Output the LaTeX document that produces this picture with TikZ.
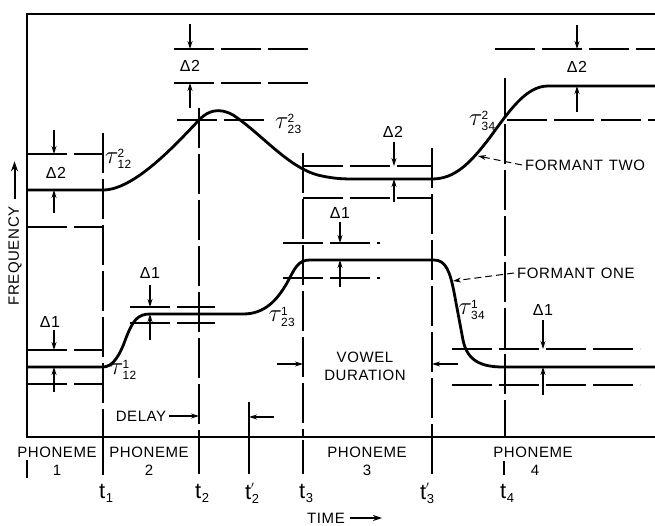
\documentclass[tikz,border=0pt]{standalone}
\usepackage{fontspec}
\usepackage{amsmath}
\setmainfont{Liberation Sans}[LetterSpace=4]
\usetikzlibrary{arrows.meta}
\newcommand{\tauf}[2]{\fontsize{23}{23}\selectfont$\tau$\kern-1pt\fontsize{17}{17}\selectfont$^{\text{#1}}_{\text{#2}}$}
\newcommand{\tsub}[2]{\fontsize{22}{22}\selectfont t\kern0.5pt\fontsize{13}{13}\selectfont\raisebox{-4pt}{#2}\ifx#1p\kern-8pt\raisebox{6pt}{\fontsize{14}{14}\selectfont$'$}\kern3pt\fi}
\begin{document}
\begin{tikzpicture}[x=1pt,y=-1pt,
  lab/.style={font=\fontsize{15}{18}\selectfont, inner sep=0pt, align=center},
  dlab/.style={font=\fontsize{16}{18}\selectfont, inner sep=0pt},
  tlab/.style={inner sep=0pt, anchor=west},
  taulab/.style={inner sep=0pt},
  curve/.style={line width=2.8pt, line join=round},
  frame/.style={line width=1.8pt},
  guide/.style={line width=1.1pt, dash pattern=on 40pt off 7pt},
  vguide/.style={line width=1.1pt, dash pattern=on 40pt off 6pt},
  tick/.style={line width=1.1pt},
  marr/.style={line width=1.1pt, -{Stealth[length=8pt,width=5pt]}},
  lead/.style={line width=1pt, dash pattern=on 7pt off 4pt, -{Stealth[length=8pt,width=5pt]}},
]
\useasboundingbox (0,0) rectangle (655,526);
\fill[white] (0,0) rectangle (655,526);

% frame
\draw[frame] (655,14) -- (27,14) -- (27,437) -- (655,437);

% vertical guides
\draw[vguide] (103,133) -- (103,437);
\draw[vguide] (199,108) -- (199,437);
\draw[tick] (249,402) -- (249,437);
\draw[vguide] (303,153) -- (303,437);
\draw[vguide] (432,148) -- (432,437);
\draw[vguide] (505,78) -- (505,437);

% horizontal guides, formant two
\draw[guide] (27,154) -- (103,154);
\draw[guide] (27,227) -- (103,227);
\draw[guide] (174,49) -- (308,49);
\draw[guide] (174,83) -- (308,83);
\draw[guide] (177,120) -- (270,120);
\draw[guide] (303,166) -- (432,166);
\draw[guide] (303,198) -- (432,198);
\draw[guide] (495,49) -- (655,49);
\draw[guide] (507,120) -- (655,120);
% horizontal guides, formant one
\draw[guide] (27,350) -- (103,350);
\draw[guide] (27,384) -- (103,384);
\draw[guide] (130,307) -- (215,307);
\draw[guide] (130,323) -- (215,323);
\draw[guide] (283,243) -- (380,243);
\draw[guide] (283,278) -- (380,278);
\draw[guide] (452,349) -- (640,349);
\draw[guide] (452,385) -- (640,385);

% formant two
\draw[curve] (27,190) -- (103,190)
  .. controls (135,190) and (178,142) .. (200,119)
  .. controls (208,111) and (219,107) .. (233,115)
  .. controls (262,134) and (290,170) .. (322,176)
  .. controls (334,178.5) and (342,179) .. (354,179)
  -- (432,179)
  .. controls (455,179) and (470,163) .. (488,140)
  .. controls (508,113) and (525,86) .. (548,86)
  -- (655,86);

% formant one
\draw[curve] (27,367) -- (103,367)
  .. controls (113,367) and (120,355) .. (126,338)
  .. controls (133,320) and (138,314) .. (150,314)
  -- (243,314)
  .. controls (265,314) and (277,300) .. (287,283)
  .. controls (295,268) and (298,260) .. (310,260)
  -- (434,260)
  .. controls (446,260) and (450,272) .. (454,292)
  -- (463,340)
  .. controls (467,360) and (480,367) .. (503,367)
  -- (655,367);

% delta markers formant two
\node[dlab] (d2a) at (56,173) {Δ2};
\draw[marr] (54,130) -- (54,154);
\draw[marr] (54,213) -- (54,190);
\node[dlab] (d2b) at (190,66) {Δ2};
\draw[marr] (190,24) -- (190,49);
\draw[marr] (190,108) -- (190,83);
\node[dlab] (d2c) at (393,132) {Δ2};
\draw[marr] (394,142) -- (394,166);
\draw[marr] (394,202) -- (394,179);
\node[dlab] (d2d) at (577,67) {Δ2};
\draw[marr] (577,25) -- (577,49);
\draw[marr] (577,112) -- (577,86);

% delta markers formant one
\node[dlab] (d1a) at (50,322) {Δ1};
\draw[marr] (54,330) -- (54,350);
\draw[marr] (54,392) -- (54,367);
\node[dlab] (d1b) at (150,273) {Δ1};
\draw[marr] (150,285) -- (150,307);
\draw[marr] (150,340) -- (150,314);
\node[dlab] (d1c) at (340,213) {Δ1};
\draw[marr] (340,222) -- (340,243);
\draw[marr] (340,287) -- (340,260);
\node[dlab] (d1d) at (543,310) {Δ1};
\draw[marr] (543,320) -- (543,349);
\draw[marr] (543,395) -- (543,367);

% tau labels
\node[taulab, anchor=west] (ta) at (105,159) {\tauf{2}{12}};
\node[taulab, anchor=west] (tb) at (275,124) {\tauf{2}{23}};
\node[taulab, anchor=east] (tc) at (496,121) {\tauf{2}{34}};
\node[taulab, anchor=west] (td) at (110,370) {\tauf{1}{12}};
\node[taulab] (te) at (282,317) {\tauf{1}{23}};
\node[taulab] (tf) at (472,310) {\tauf{1}{34}};

% formant labels
\node[lab, anchor=west] (f2) at (525,165) {FORMANT\hspace{0.4em}TWO};
\coordinate (f2tip) at (478,156);
\draw[lead] ([xshift=-3pt]f2.west) -- (f2tip);
\node[lab, anchor=west] (f1) at (517,273) {FORMANT\hspace{0.4em}ONE};
\coordinate (f1tip) at (453,281);
\draw[lead] ([xshift=-3pt]f1.west) -- (f1tip);

% vowel duration
\node[lab] (vd) at (365,366) {VOWEL\\DURATION};
\coordinate (vl) at (303,364);
\coordinate (vr) at (432,364);
\draw[marr] (277,364) -- (vl);
\draw[marr] (458,364) -- (vr);

% delay
\node[lab] (delay) at (141,416) {DELAY};
\coordinate (dt) at (199,416);
\draw[marr] ([xshift=3pt]delay.east) -- (dt);
\coordinate (dt2) at (249,417);
\draw[marr] (274,417) -- (dt2);

% bottom ticks
\draw[tick] (27,460) -- (27,478);
\draw[tick] (103,437) -- (103,475);
\draw[tick] (199,437) -- (199,474);
\draw[tick] (249,437) -- (249,474);
\draw[tick] (303,440) -- (303,474);
\draw[tick] (432,437) -- (432,474);
\draw[tick] (504,461) -- (504,475);

% phoneme labels
\node[lab] (p1) at (57,461) {PHONEME\\1};
\node[lab] (p2) at (149,461) {PHONEME\\2};
\node[lab] (p3) at (367,461) {PHONEME\\3};
\node[lab] (p4) at (533,461) {PHONEME\\\hspace*{4pt}4};

% time labels
\node[tlab] (t1) at (99,493) {\tsub{n}{1}};
\node[tlab] (t2) at (195,493) {\tsub{n}{2}};
\node[tlab] (t2p) at (245,493) {\tsub{p}{2}};
\node[tlab] (t3) at (299,493) {\tsub{n}{3}};
\node[tlab] (t3p) at (420,493) {\tsub{p}{3}};
\node[tlab] (t4) at (500,493) {\tsub{n}{4}};

% axis labels
\node[lab] (time) at (326,518) {TIME};
\draw[line width=1.6pt, -{Stealth[length=9pt,width=6pt]}] ([xshift=5pt]time.east) -- ++(32,0);
\node[lab, rotate=90] (freq) at (15,256) {FREQUENCY};
\draw[line width=2pt, -{Stealth[length=10pt,width=7pt]}] ([xshift=-0.5pt,yshift=7pt]freq.east) -- ++(0,-38);
\end{tikzpicture}
\end{document}
